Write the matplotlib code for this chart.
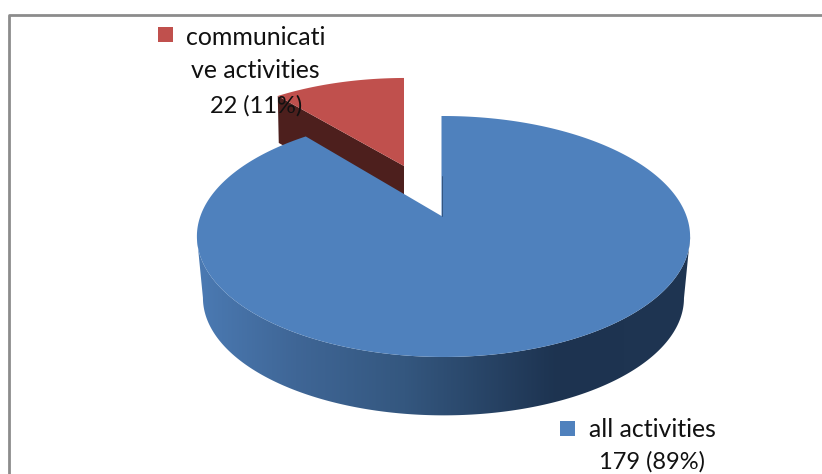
import numpy as np
import matplotlib
matplotlib.use('Agg')
import matplotlib.pyplot as plt
from matplotlib.colors import LinearSegmentedColormap
from matplotlib.patches import Polygon, Rectangle

# --- Chart data ---
COUNTS = [179, 22]
BLUE_LABEL_LINES = ['all activities', '179 (89%)']
RED_LABEL_LINES = ['communicati', 've activities', '22 (11%)']

# --- Colors ---
BLUE_TOP = '#4f81bd'
RED_TOP = '#c0504d'
RED_SIDE = '#4d1f1d'
BLUE_SIDE_STOPS = ['#4b7ab3', '#3f6696', '#34577f', '#1d3350', '#1f3552']
BORDER_COLOR = '#8c8c8c'
TEXT_COLOR = '#111111'
FONT = 'Lato'
FONT_SIZE = 17.9
NUMBER_FONT_SIZE = 17

W, H = 822, 474


def pie_outline(theta, apex, a, b, k=0.17, m=-0.008):
    """Project clockwise-from-top angles (degrees) onto a pie tilted in perspective."""
    t = np.radians(theta)
    u, v = np.sin(t), np.cos(t)
    d = 1 + k * v + m * u
    return np.column_stack([apex[0] + b * u / d, apex[1] - a * v / d])


def label(x, y, text, ha='center', size=FONT_SIZE):
    ax.text(x, y, text, ha=ha, va='center', fontsize=size, color=TEXT_COLOR, family=FONT, zorder=7)


fig = plt.figure(figsize=(W / 100, H / 100), dpi=100)
ax = fig.add_axes([0, 0, 1, 1])
ax.set_xlim(0, W)
ax.set_ylim(H, 0)
ax.axis('off')

sweep = 360 * COUNTS[0] / sum(COUNTS)

# --- Chart frame: only the top and left edges fall inside the canvas ---
ax.plot([9, 9, W], [H, 15, 15], color=BORDER_COLOR, lw=2, solid_capstyle='butt')

# --- Exploded red slice ---
red_apex = (404, 166)
red_theta = np.linspace(sweep, 360, 60)
red_edge = pie_outline(red_theta, red_apex, 103, 226)
red_corner = red_edge[0]
ax.add_patch(Polygon([red_apex, red_corner, red_corner + [1, 47], [red_apex[0], red_apex[1] + 47]],
                     closed=True, fc=RED_SIDE, ec='none', zorder=2))
ax.add_patch(Polygon(np.vstack([red_apex, red_edge]), closed=True, fc=RED_TOP, ec='none', zorder=3))

# --- Blue slice: curved wall with a left-to-right shade, then the top face ---
blue_apex = (441.5, 216)
wall_theta = np.linspace(99.8, 260.2, 200)
top_front = pie_outline(wall_theta, blue_apex, 117, 243)
bottom_front = pie_outline(wall_theta, (blue_apex[0], 278), 114, 237)
wall = Polygon(np.vstack([top_front, bottom_front[::-1]]), closed=True, fc='none', ec='none', zorder=4)
ax.add_patch(wall)
shade = LinearSegmentedColormap.from_list(
    'wall', list(zip([0, 0.2, 0.42, 0.73, 1], BLUE_SIDE_STOPS)))
grad = ax.imshow(np.linspace(0, 1, 256)[None, :], cmap=shade, extent=[197, 690, 420, 230],
                 aspect='auto', zorder=4)
grad.set_clip_path(wall)
ax.set_xlim(0, W)
ax.set_ylim(H, 0)

blue_theta = np.linspace(0, sweep, 300)
blue_edge = pie_outline(blue_theta, blue_apex, 117, 243)
ax.add_patch(Polygon(np.vstack([blue_apex, blue_edge]), closed=True, fc=BLUE_TOP, ec='none', zorder=5))
ax.plot([blue_apex[0] + 0.2, blue_apex[0] + 0.2], [blue_apex[1] - 40, blue_apex[1]],
        color='#1f3552', lw=0.4, zorder=5)

# --- Data labels with their legend keys ---
ax.add_patch(Rectangle((158, 27), 15, 15, fc=RED_TOP, ec='none', zorder=6))
ax.add_patch(Rectangle((560, 421), 15, 15, fc=BLUE_TOP, ec='none', zorder=6))

label(255.5, 37.5, RED_LABEL_LINES[0])
label(255.5, 70, RED_LABEL_LINES[1])
label(256.5, 105.5, RED_LABEL_LINES[2], size=NUMBER_FONT_SIZE)
label(589, 429.5, BLUE_LABEL_LINES[0], ha='left')
label(652, 461.5, BLUE_LABEL_LINES[1], size=NUMBER_FONT_SIZE)

fig.savefig('out.png', dpi=100, facecolor='white')
plt.close(fig)
